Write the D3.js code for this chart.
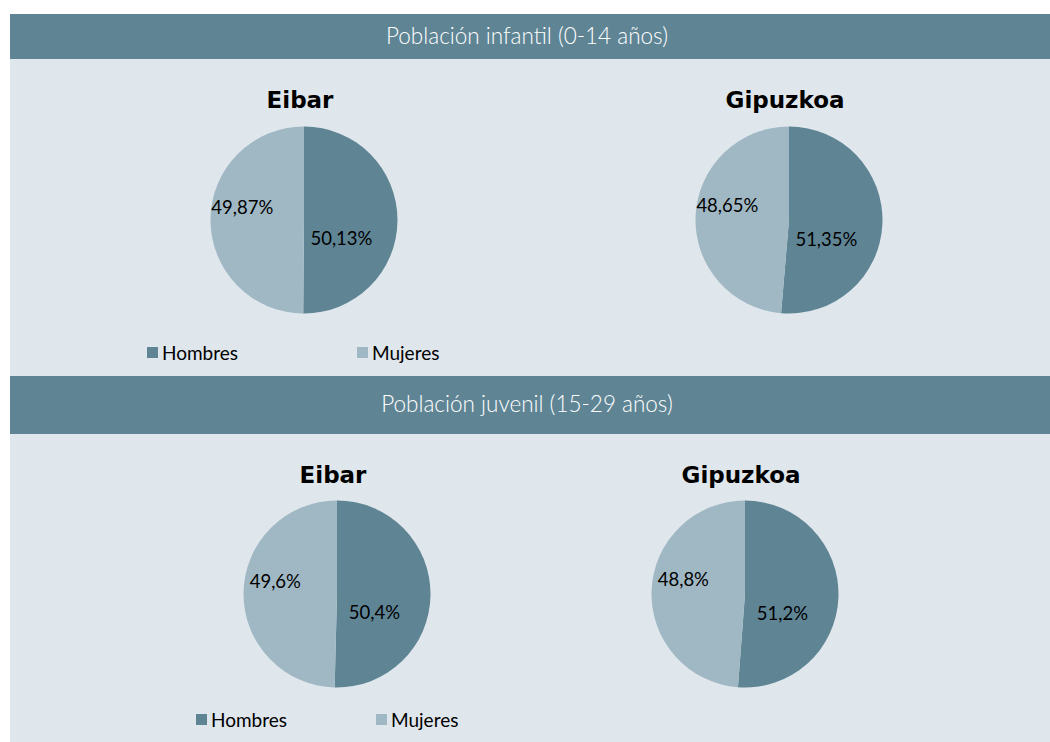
<!DOCTYPE html>
<html>
<head>
<meta charset="utf-8">
<script src="https://cdn.jsdelivr.net/npm/d3@7"></script>
<style>
  body { margin: 0; background: #fff; }
  text { font-family: "Century Gothic", "Lato", "DejaVu Sans", sans-serif; }
</style>
</head>
<body>
<div id="chart"></div>
<script>
const sections = ["Población infantil (0-14 años)", "Población juvenil (15-29 años)"]
const places = ["Eibar", "Gipuzkoa"]
const sexes = ["Hombres", "Mujeres"]
// values per section, per place: [Hombres, Mujeres]
const hombres = [[50.13, 51.35], [50.4, 51.2]]
const mujeres = [[49.87, 48.65], [49.6, 48.8]]
const labels = [[["50,13%", "49,87%"], ["51,35%", "48,65%"]], [["50,4%", "49,6%"], ["51,2%", "48,8%"]]]

const width = 1050
const height = 742
const colors = d3.scaleOrdinal().domain(sexes).range(["#5f8595", "#a0b8c4"])

const svg = d3.select("#chart").append("svg")
    .attr("width", width)
    .attr("height", height)

// layout of the two blocks
const blocks = [
    {top: 14, bannerH: 45, bottom: 376, pieX: [304, 789], pieY: 220, titleY: 108, legendY: 353, legendX: [147, 357]},
    {top: 376, bannerH: 58, bottom: 742, pieX: [337, 745], pieY: 594, titleY: 483, legendY: 720, legendX: [196, 376]}
]
const radius = 93.5

const pie = d3.pie().sort(null).value(d => d.value)
const arc = d3.arc().innerRadius(0).outerRadius(radius)

blocks.forEach((b, si) => {
    const g = svg.append("g")

    g.append("rect")
        .attr("x", 10).attr("y", b.top)
        .attr("width", width - 10).attr("height", b.bottom - b.top)
        .attr("fill", "#dfe6ec")

    g.append("rect")
        .attr("x", 10).attr("y", b.top)
        .attr("width", width - 10).attr("height", b.bannerH)
        .attr("fill", "#5f8595")

    g.append("text")
        .attr("x", 527).attr("y", b.top + b.bannerH / 2 + 7)
        .attr("text-anchor", "middle")
        .attr("fill", "#fff")
        .attr("font-size", 22.5)
        .attr("font-weight", 300)
        .text(sections[si])

    places.forEach((p, pi) => {
        const data = [
            {sex: sexes[0], value: hombres[si][pi], label: labels[si][pi][0]},
            {sex: sexes[1], value: mujeres[si][pi], label: labels[si][pi][1]}
        ]
        const pg = g.append("g")
            .attr("transform", "translate(" + b.pieX[pi] + "," + b.pieY + ")")

        g.append("text")
            .attr("x", b.pieX[pi] - 4).attr("y", b.titleY)
            .attr("text-anchor", "middle")
            .attr("font-size", 23)
            .attr("font-weight", "bold")
            .style("font-family", "'DejaVu Sans', sans-serif")
            .attr("fill", "#000")
            .text(p)

        const slices = pie(data)
        pg.selectAll("path")
            .data(slices)
            .enter()
            .append("path")
            .attr("d", arc)
            .attr("fill", d => colors(d.data.sex))

        // label placement similar to the original (inside, best fit)
        pg.selectAll("text")
            .data(slices)
            .enter()
            .append("text")
            .attr("transform", (d, i) => {
                const r = i === 0 ? radius * 0.4 : radius * 0.66
                const c = d3.arc().innerRadius(r).outerRadius(r).centroid(d)
                const dy = i === 0 ? 18 : -12
                return "translate(" + c[0] + "," + (c[1] + dy) + ")"
            })
            .attr("text-anchor", "middle")
            .attr("dy", "0.35em")
            .attr("font-size", 18.5)
            .attr("fill", "#000")
            .text(d => d.data.label)
    })

    // legend
    sexes.forEach((s, i) => {
        g.append("rect")
            .attr("x", b.legendX[i]).attr("y", b.legendY - 6)
            .attr("width", 11).attr("height", 11)
            .attr("fill", colors(s))
        g.append("text")
            .attr("x", b.legendX[i] + 15).attr("y", b.legendY)
            .attr("dy", "0.35em")
            .attr("font-size", 19)
            .attr("fill", "#000")
            .text(s)
    })
})
</script>
</body>
</html>
